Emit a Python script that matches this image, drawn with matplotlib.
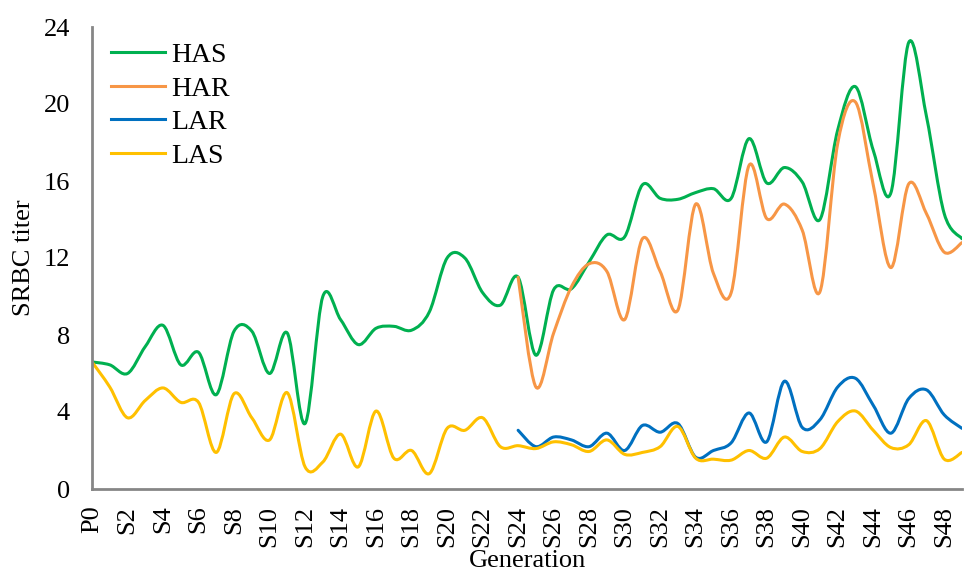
import matplotlib
matplotlib.use("Agg")
import matplotlib.pyplot as plt
from matplotlib.path import Path
from matplotlib.patches import PathPatch
from matplotlib.lines import Line2D

generations = ["P0"] + ["S%d" % i for i in range(1, 50)]

has = [6.6, 6.45, 6.0, 7.4, 8.5, 6.45, 7.1, 4.9, 8.2, 8.2,
       6.0, 8.1, 3.4, 10.0, 8.8, 7.5, 8.35, 8.45, 8.25, 9.2,
       12.0, 12.0, 10.2, 9.55, 11.0, 6.95, 10.35, 10.4, 11.8, 13.2,
       13.1, 15.8, 15.1, 15.05, 15.4, 15.6, 15.1, 18.2, 15.9, 16.7,
       15.95, 14.0, 18.65, 20.9, 17.6, 15.4, 23.2, 19.35, 14.3, 13.0]

har = [None] * 24 + [11.0, 5.3, 8.1, 10.5, 11.7, 11.3, 8.8, 13.0, 11.3, 9.3,
                     14.8, 11.2, 10.2, 16.8, 14.05, 14.8, 13.45, 10.25, 17.95, 20.1,
                     15.8, 11.5, 15.85, 14.3, 12.3, 12.8]

lar = [None] * 24 + [3.05, 2.2, 2.7, 2.55, 2.2, 2.9, 2.0, 3.3, 2.95, 3.4,
                     1.65, 2.0, 2.4, 3.95, 2.45, 5.6, 3.2, 3.6, 5.3, 5.75,
                     4.35, 2.9, 4.7, 5.15, 3.85, 3.15]

las = [6.6, 5.3, 3.7, 4.6, 5.25, 4.5, 4.5, 1.9, 4.95, 3.7,
       2.55, 5.0, 1.15, 1.4, 2.85, 1.15, 4.05, 1.6, 2.0, 0.8,
       3.15, 3.05, 3.7, 2.2, 2.25, 2.1, 2.45, 2.3, 1.95, 2.55,
       1.8, 1.9, 2.2, 3.25, 1.6, 1.55, 1.5, 2.0, 1.6, 2.7,
       1.95, 2.1, 3.5, 4.05, 3.05, 2.15, 2.3, 3.55, 1.55, 1.9]

series = [("HAS", has, "#00B050"),
          ("HAR", har, "#F79646"),
          ("LAR", lar, "#0070C0"),
          ("LAS", las, "#FFC000")]


def smooth_path(values):
    # bezier path through the points, same idea as a "smoothed line" in Excel
    pts = [(i, v) for i, v in enumerate(values) if v is not None]
    verts = [pts[0]]
    codes = [Path.MOVETO]
    n = len(pts)
    for k in range(n - 1):
        p0 = pts[k - 1] if k > 0 else pts[k]
        p1 = pts[k]
        p2 = pts[k + 1]
        p3 = pts[k + 2] if k + 2 < n else pts[k + 1]
        c1 = (p1[0] + (p2[0] - p0[0]) / 6, p1[1] + (p2[1] - p0[1]) / 6)
        c2 = (p2[0] - (p3[0] - p1[0]) / 6, p2[1] - (p3[1] - p1[1]) / 6)
        verts += [c1, c2, p2]
        codes += [Path.CURVE4] * 3
    return Path(verts, codes)


plt.rcParams["font.family"] = ["Liberation Serif", "DejaVu Serif"]

fig = plt.figure(figsize=(9.65, 5.72), dpi=100)
ax = fig.add_axes([92 / 965, 83 / 572, 870 / 965, 462 / 572])

handles = []
for name, vals, color in series:
    patch = PathPatch(smooth_path(vals), fill=False, edgecolor=color,
                      linewidth=2.2, capstyle="round", joinstyle="round")
    ax.add_patch(patch)
    handles.append(Line2D([], [], color=color, linewidth=2.2, label=name))

ax.set_xlim(0, len(generations) - 1)
ax.set_ylim(0, 24)
ax.set_yticks(range(0, 25, 4))
ax.set_xticks(range(0, len(generations), 2))
ax.set_xticklabels(generations[::2], rotation=90)
ax.tick_params(length=0, labelsize=19)
ax.tick_params(axis="y", pad=16)
ax.tick_params(axis="x", pad=12)

for s in ["top", "right"]:
    ax.spines[s].set_visible(False)
for s in ["left", "bottom"]:
    ax.spines[s].set_color("#868686")
    ax.spines[s].set_linewidth(2)

ax.set_xlabel("Generation", fontsize=19, labelpad=2)
ax.set_ylabel("SRBC titer", fontsize=19, labelpad=6)

ax.legend(handles=handles, loc="upper left", frameon=False, fontsize=20,
          handlelength=1.95, handletextpad=0.2, labelspacing=0.29,
          borderpad=0, borderaxespad=0, bbox_to_anchor=(0.022, 0.966))

fig.savefig("out.png", dpi=100)
